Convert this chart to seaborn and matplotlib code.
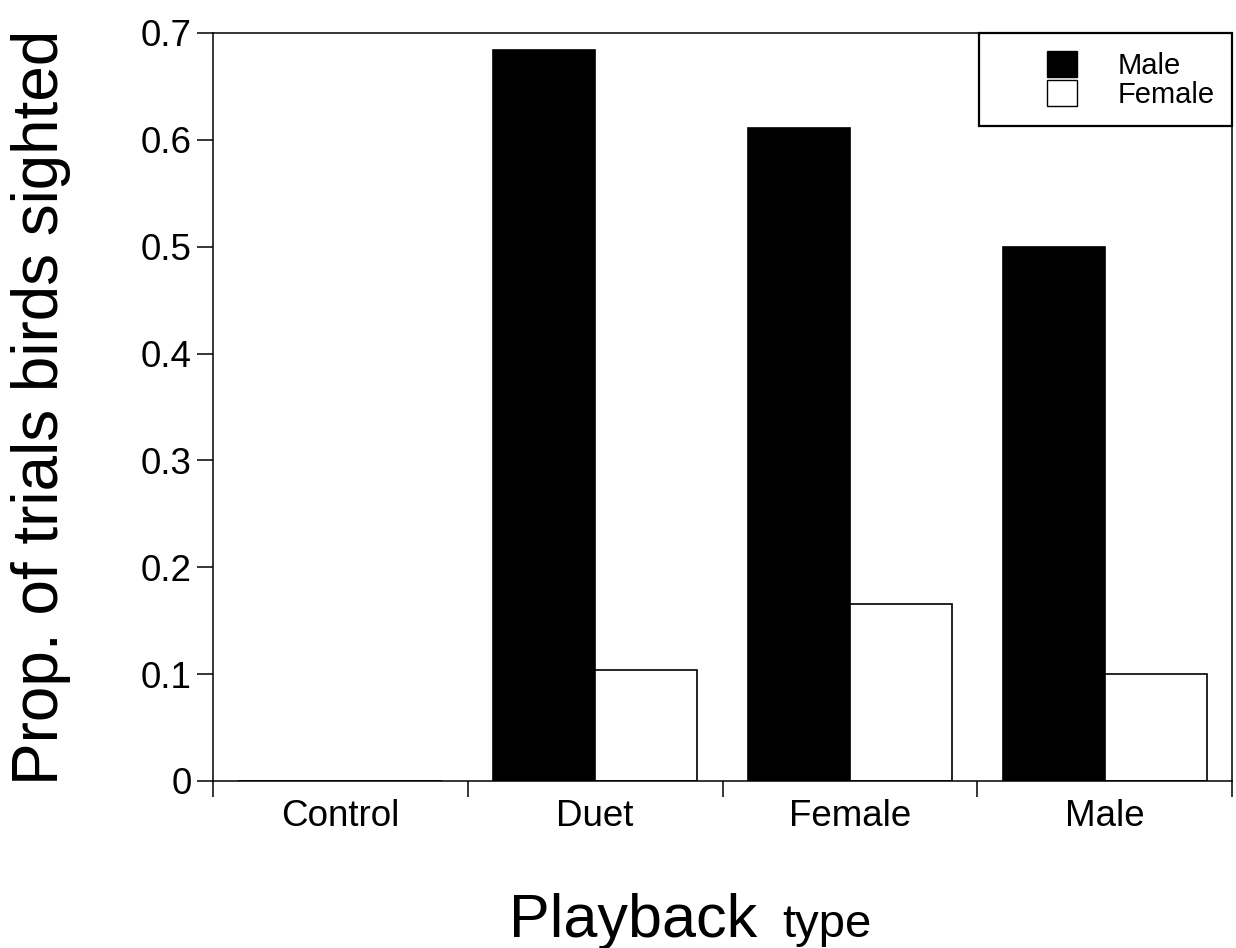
import numpy as np
import pandas as pd
import matplotlib
matplotlib.use("Agg")
import matplotlib.pyplot as plt
import seaborn as sns
from matplotlib.patches import Rectangle, Patch
from matplotlib.legend_handler import HandlerPatch

# data
playback = ["Control", "Duet", "Female", "Male"]
male_prop = [0.0, 0.684, 0.611, 0.500]
female_prop = [0.0, 0.104, 0.166, 0.100]
yticks = [0, 0.1, 0.2, 0.3, 0.4, 0.5, 0.6, 0.7]
ytick_labels = ["0", "0.1", "0.2", "0.3", "0.4", "0.5", "0.6", "0.7"]

df = pd.DataFrame({
    "playback": playback * 2,
    "sex": ["Male"] * 4 + ["Female"] * 4,
    "prop": male_prop + female_prop,
})

sns.set_style("ticks")
plt.rcParams['font.family'] = ['Liberation Sans', 'DejaVu Sans']
plt.rcParams['text.color'] = 'black'
plt.rcParams['axes.labelcolor'] = 'black'
plt.rcParams['xtick.color'] = 'black'
plt.rcParams['ytick.color'] = 'black'

fig = plt.figure(figsize=(12.36, 9.48), dpi=100)
ax = fig.add_axes([213 / 1236, 1 - 781 / 948, (1232 - 213) / 1236, (781 - 33) / 948])

sns.barplot(
    data=df, x="playback", y="prop", hue="sex",
    order=playback, hue_order=["Male", "Female"],
    palette={"Male": "black", "Female": "white"},
    edgecolor="black", linewidth=1.2, width=0.8,
    ax=ax, legend=False
)

ax.set_xlim(-0.5, 3.5)
ax.set_ylim(0, 0.7)

# y axis
ax.set_yticks(yticks)
ax.set_yticklabels(ytick_labels)
ax.tick_params(axis="y", direction="out", length=11.5, width=1.1,
               labelsize=26.5, pad=4)

# x axis: tick marks at category boundaries, labels at centres
ax.set_xticks(np.arange(-0.5, 4.0, 1.0))
ax.set_xticklabels([])
ax.set_xticks(range(len(playback)), minor=True)
ax.tick_params(axis="x", which="major", direction="out", length=11.5, width=1.1)
ax.tick_params(axis="x", which="minor", length=0, labelsize=26.5, pad=13)
ax.set_xticklabels(playback, minor=True)

for s in ax.spines.values():
    s.set_visible(True)
    s.set_linewidth(1.1)
    s.set_color("black")

ax.set_xlabel("")
ax.set_ylabel("Prop. of trials birds sighted", fontsize=46, labelpad=50)

# x label: large "Playback" + smaller "type"
fig.text(757 / 1236, 1 - 937 / 948, "Playback", fontsize=44,
         ha="right", va="baseline")
fig.text(782 / 1236, 1 - 937 / 948, "type", fontsize=34,
         ha="left", va="baseline")


# legend with small square swatches pushed to the right of their handle box
def small_box(legend, orig_handle, xdescent, ydescent, width, height, fontsize):
    w = 21.6
    return Rectangle((-xdescent + width - w, -ydescent), w, height)


handles = [Patch(facecolor="black", edgecolor="black", linewidth=1.0),
           Patch(facecolor="white", edgecolor="black", linewidth=1.0)]
leg = ax.legend(
    handles, ["Male", "Female"], loc="upper right", fontsize=21,
    frameon=True, fancybox=False, edgecolor="black", framealpha=1,
    borderaxespad=0, borderpad=0.6, handlelength=2.75, handleheight=1.0,
    handletextpad=1.38, labelspacing=0.0,
    handler_map={Patch: HandlerPatch(patch_func=small_box)},
)
leg.get_frame().set_linewidth(1.6)

plt.savefig("out.png", dpi=100)
